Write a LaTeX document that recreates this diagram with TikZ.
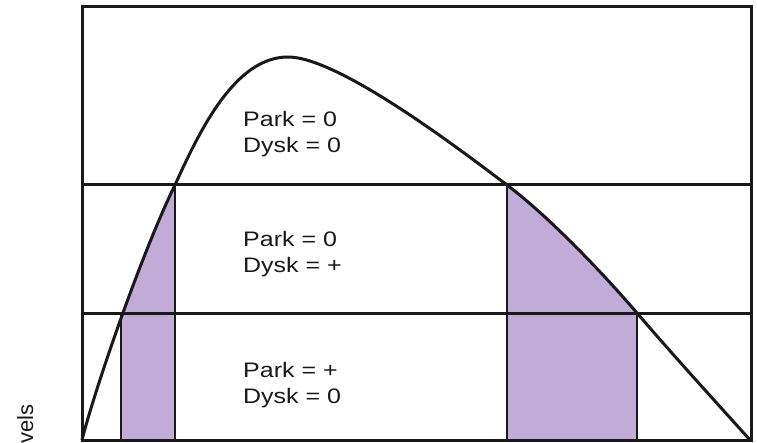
\documentclass[tikz,border=0pt]{standalone}
\usepackage{fontspec}
\setmainfont{Liberation Sans}
\definecolor{lilac}{RGB}{192,172,214}
\definecolor{ink}{RGB}{25,25,25}
\begin{document}
\begin{tikzpicture}[x=1pt,y=-1pt,
  lbl/.style={anchor=base west,inner sep=0pt,font=\fontsize{21}{26}\selectfont,text=ink},
  heavy/.style={draw=ink,line width=3pt},
  thin/.style={draw=ink,line width=2.3pt},
  curvestyle/.style={draw=ink,line width=3pt,line join=round,line cap=round}]
\useasboundingbox (0,0) rectangle (757,443);
\def\curvepath{(82,440) .. controls (96,385) and (143,250) .. (175,185)
  .. controls (200,130) and (235,57) .. (288,57)
  .. controls (340,57) and (467,155) .. (507,185)
  .. controls (547,215) and (601,271) .. (637,313)
  .. controls (672,354) and (715,401) .. (750,440)}
% purple fills
\begin{scope}
  \clip \curvepath -- cycle;
  \fill[lilac] (121,180) rectangle (175,440);
  \fill[lilac] (507,180) rectangle (637,440);
\end{scope}
% named points
\coordinate (bl) at (82,440);
\coordinate (tr) at (751,7);
\coordinate (u1) at (82,185);
\coordinate (u2) at (751,185);
\coordinate (l1) at (82,314);
\coordinate (l2) at (751,314);
\coordinate (a1) at (121,314);
\coordinate (a2) at (121,440);
\coordinate (b1) at (175,185);
\coordinate (b2) at (175,440);
\coordinate (c1) at (507,185);
\coordinate (c2) at (507,440);
\coordinate (e1) at (637,314);
\coordinate (e2) at (637,440);
% verticals
\draw[thin] (a1) -- (a2);
\draw[thin] (b1) -- (b2);
\draw[thin] (c1) -- (c2);
\draw[thin] (e1) -- (e2);
% horizontals
\draw[heavy] (u1) -- (u2);
\draw[heavy] (l1) -- (l2);
% curve
\draw[curvestyle] \curvepath;
% frame
\draw[heavy] (bl) rectangle (tr);
% labels
\node[lbl] (p1) at (243,127) {\scalebox{1.19}[1]{Park = 0}};
\node[lbl] (d1) at (243,153) {\scalebox{1.19}[1]{Dysk = 0}};
\node[lbl] (p2) at (243,247) {\scalebox{1.19}[1]{Park = 0}};
\node[lbl] (d2) at (243,273) {\scalebox{1.19}[1]{Dysk = +}};
\node[lbl] (p3) at (243,377) {\scalebox{1.19}[1]{Park = +}};
\node[lbl] (d3) at (243,403) {\scalebox{1.19}[1]{Dysk = 0}};
\node[anchor=base west,inner sep=0pt,rotate=90,font=\fontsize{22}{26}\selectfont,text=ink] (ax) at (33,444) {vels};
\end{tikzpicture}
\end{document}
